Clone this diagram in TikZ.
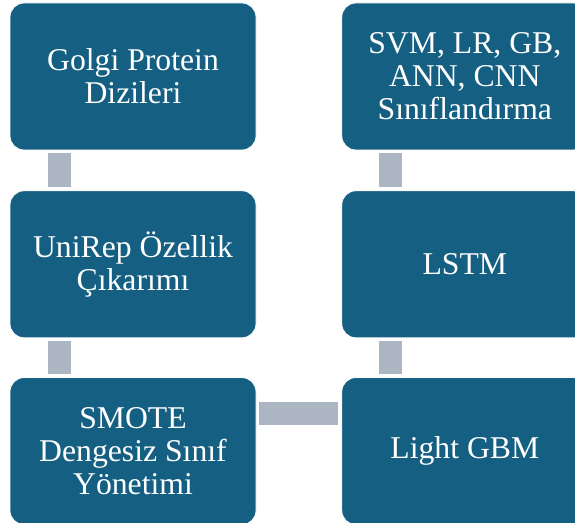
\documentclass[tikz,border=0pt]{standalone}
\usepackage{fontspec}
\setmainfont[Ligatures=NoCommon]{Liberation Serif}
\usetikzlibrary{positioning}
\definecolor{stepblue}{HTML}{156082}
\definecolor{bargray}{HTML}{ABB6C2}

\begin{document}
\begin{tikzpicture}[x=1pt, y=1pt,
					stepnode/.style={rectangle,
					rounded corners=14pt,
					minimum width=246pt,
					minimum height=147pt,
					inner sep=0pt,
					draw=white,
					line width=0.8pt,
					fill=stepblue,
					text=white,
					align=center,
					font=\fontsize{31.7}{33}\selectfont},
					barline/.style={line width=23pt,
					draw=bargray,
					shorten <=3pt,
					shorten >=3pt}
					]

% page size of the reference, the right column runs off the edge
\useasboundingbox (0,0) rectangle (575,522);

% left column
\node[stepnode]  (golgi) at (133,445.5) {Golgi Protein\\Dizileri};
\node[stepnode]  (unirep) [below=40pt of golgi] {UniRep Özellik\\Çıkarımı};
\node[stepnode]  (smote) [below=39pt of unirep] {SMOTE\\Dengesiz Sınıf\\Yönetimi};

% right column, going up
\node[stepnode]  (lgbm) [right=85pt of smote] {Light GBM};
\node[stepnode]  (lstm) [above=39pt of lgbm] {LSTM};
\node[stepnode]  (clf) [above=40pt of lstm] {SVM, LR, GB,\\ANN, CNN\\Sınıflandırma};

% bars between the steps
\draw[barline] ([xshift=49.5pt]golgi.south west) -- ([xshift=49.5pt]unirep.north west);
\draw[barline] ([xshift=49.5pt]unirep.south west) -- ([xshift=49.5pt]smote.north west);
\draw[barline] ([yshift=-36pt]smote.north east) -- ([yshift=-36pt]lgbm.north west);
\draw[barline] ([xshift=49.5pt]lgbm.north west) -- ([xshift=49.5pt]lstm.south west);
\draw[barline] ([xshift=49.5pt]lstm.north west) -- ([xshift=49.5pt]clf.south west);

\end{tikzpicture}
\end{document}
